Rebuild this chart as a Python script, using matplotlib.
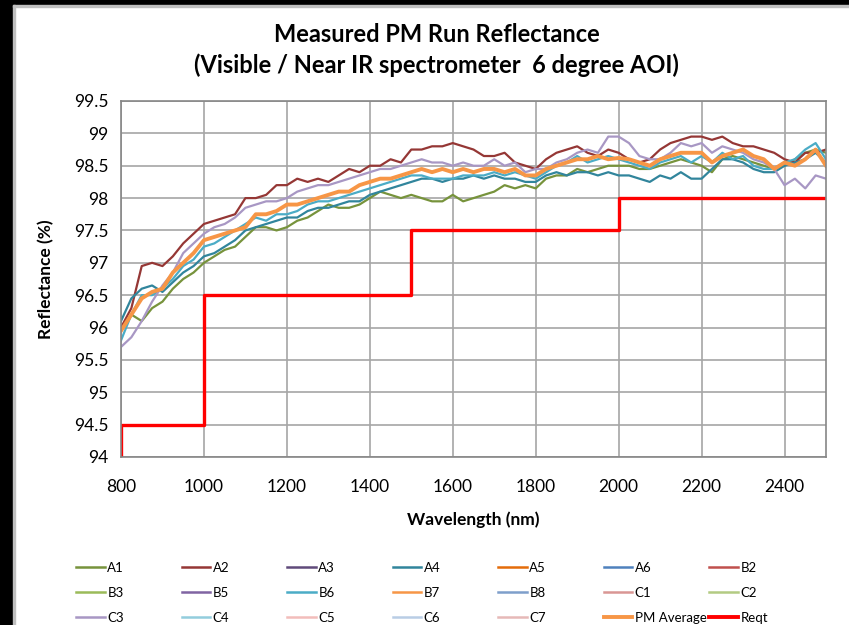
import matplotlib
matplotlib.use('Agg')
import matplotlib.pyplot as plt
from matplotlib.patches import Rectangle
from matplotlib.lines import Line2D

plt.rcParams['font.family'] = ['Lato', 'DejaVu Sans']

# wavelength grid (nm), 25 nm steps
wl = [800, 825, 850, 875, 900, 925, 950, 975, 1000, 1025, 1050, 1075, 1100, 1125, 1150, 1175,
      1200, 1225, 1250, 1275, 1300, 1325, 1350, 1375, 1400, 1425, 1450, 1475, 1500, 1525, 1550,
      1575, 1600, 1625, 1650, 1675, 1700, 1725, 1750, 1775, 1800, 1825, 1850, 1875, 1900, 1925,
      1950, 1975, 2000, 2025, 2050, 2075, 2100, 2125, 2150, 2175, 2200, 2225, 2250, 2275, 2300,
      2325, 2350, 2375, 2400, 2425, 2450, 2475, 2500]

a1 = [96.0, 96.2, 96.1, 96.3, 96.4, 96.6, 96.75, 96.85, 97.0, 97.1, 97.2, 97.25, 97.4, 97.55, 97.55, 97.5,
      97.55, 97.65, 97.7, 97.8, 97.9, 97.85, 97.85, 97.9, 98.0, 98.1, 98.05, 98.0, 98.05, 98.0, 97.95,
      97.95, 98.05, 97.95, 98.0, 98.05, 98.1, 98.2, 98.15, 98.2, 98.15, 98.3, 98.35, 98.35, 98.45, 98.4,
      98.45, 98.5, 98.5, 98.5, 98.45, 98.45, 98.5, 98.55, 98.6, 98.55, 98.5, 98.4, 98.6, 98.65, 98.6,
      98.55, 98.5, 98.45, 98.5, 98.6, 98.7, 98.75, 98.7]
a2 = [96.0, 96.3, 96.95, 97.0, 96.95, 97.1, 97.3, 97.45, 97.6, 97.65, 97.7, 97.75, 98.0, 98.0, 98.05, 98.2,
      98.2, 98.3, 98.25, 98.3, 98.25, 98.35, 98.45, 98.4, 98.5, 98.5, 98.6, 98.55, 98.75, 98.75, 98.8,
      98.8, 98.85, 98.8, 98.75, 98.65, 98.65, 98.7, 98.55, 98.5, 98.45, 98.6, 98.7, 98.75, 98.8, 98.7,
      98.65, 98.75, 98.7, 98.6, 98.55, 98.6, 98.75, 98.85, 98.9, 98.95, 98.95, 98.9, 98.95, 98.85, 98.8,
      98.8, 98.75, 98.7, 98.6, 98.55, 98.7, 98.7, 98.75]
a4 = [96.1, 96.45, 96.6, 96.65, 96.55, 96.7, 96.85, 96.95, 97.1, 97.15, 97.25, 97.35, 97.5, 97.55, 97.6, 97.65,
      97.7, 97.7, 97.8, 97.85, 97.85, 97.9, 97.95, 97.95, 98.05, 98.1, 98.15, 98.2, 98.25, 98.3, 98.3,
      98.25, 98.3, 98.3, 98.35, 98.3, 98.35, 98.3, 98.3, 98.25, 98.25, 98.35, 98.4, 98.35, 98.4, 98.4,
      98.35, 98.4, 98.35, 98.35, 98.3, 98.25, 98.35, 98.3, 98.4, 98.3, 98.3, 98.45, 98.6, 98.6, 98.55,
      98.45, 98.4, 98.4, 98.5, 98.55, 98.6, 98.7, 98.55]
b6 = [95.8, 96.2, 96.5, 96.5, 96.6, 96.75, 96.95, 97.05, 97.25, 97.3, 97.4, 97.5, 97.6, 97.7, 97.65, 97.75,
      97.75, 97.8, 97.9, 97.95, 97.95, 98.0, 98.05, 98.1, 98.15, 98.2, 98.25, 98.3, 98.35, 98.35, 98.3,
      98.3, 98.3, 98.35, 98.35, 98.35, 98.4, 98.35, 98.4, 98.35, 98.3, 98.4, 98.5, 98.55, 98.65, 98.55,
      98.6, 98.65, 98.6, 98.55, 98.5, 98.45, 98.55, 98.6, 98.65, 98.55, 98.65, 98.55, 98.7, 98.6, 98.65,
      98.5, 98.45, 98.45, 98.55, 98.6, 98.75, 98.85, 98.6]
c3 = [95.7, 95.85, 96.1, 96.4, 96.65, 96.85, 97.15, 97.3, 97.45, 97.55, 97.6, 97.7, 97.85, 97.9, 97.95, 97.95,
      98.0, 98.1, 98.15, 98.2, 98.2, 98.25, 98.3, 98.35, 98.4, 98.45, 98.45, 98.5, 98.55, 98.6, 98.55,
      98.55, 98.5, 98.55, 98.5, 98.5, 98.6, 98.5, 98.55, 98.4, 98.45, 98.45, 98.55, 98.6, 98.7, 98.75,
      98.7, 98.95, 98.95, 98.85, 98.65, 98.6, 98.6, 98.7, 98.85, 98.8, 98.85, 98.7, 98.8, 98.75, 98.7,
      98.6, 98.55, 98.45, 98.2, 98.3, 98.15, 98.35, 98.3]
pm_avg = [95.95, 96.2, 96.45, 96.55, 96.6, 96.85, 97.0, 97.15, 97.35, 97.4, 97.45, 97.5, 97.55, 97.75, 97.75, 97.8,
          97.9, 97.9, 97.95, 98.0, 98.05, 98.1, 98.1, 98.2, 98.25, 98.3, 98.3, 98.35, 98.4, 98.45, 98.4,
          98.45, 98.4, 98.45, 98.4, 98.45, 98.45, 98.4, 98.45, 98.35, 98.35, 98.45, 98.5, 98.55, 98.6, 98.6,
          98.65, 98.6, 98.62, 98.6, 98.55, 98.5, 98.6, 98.65, 98.7, 98.7, 98.7, 98.55, 98.65, 98.7, 98.75,
          98.65, 98.6, 98.45, 98.55, 98.5, 98.6, 98.75, 98.5]

# requirement steps
reqt_wl = [800, 800, 1000, 1500, 2000, 2500]
reqt_val = [94.0, 94.5, 96.5, 97.5, 98.0, 98.0]

names = ['A1', 'A2', 'A3', 'A4', 'A5', 'A6', 'B2',
         'B3', 'B5', 'B6', 'B7', 'B8', 'C1', 'C2',
         'C3', 'C4', 'C5', 'C6', 'C7']
colors = ['#77933C', '#953735', '#604A7B', '#31859C', '#E46C0A', '#4F81BD', '#C0504D',
          '#9BBB59', '#8064A2', '#4BACC6', '#F79646', '#7E9FCB', '#D99694', '#B3CB82',
          '#A897C4', '#93CDDD', '#F2BDBB', '#B9CDE5', '#E6B9B8']
data = {'A1': a1, 'A2': a2, 'A4': a4, 'B6': b6, 'C3': c3}

fig = plt.figure(figsize=(8.49, 6.25), dpi=100)
ax = fig.add_axes([121 / 849, 1 - 457 / 625, 705 / 849, 356 / 625])

handles = []
for name, col in zip(names, colors):
    y = data.get(name)
    if y is not None:
        ax.plot(wl, y, color=col, lw=1.6)
    handles.append(Line2D([], [], color=col, lw=1.8, label=name))

ax.plot(wl, pm_avg, color='#F79646', lw=2.8)
ax.plot(reqt_wl, reqt_val, color='#FF0000', lw=2.4, drawstyle='steps-post')
handles.append(Line2D([], [], color='#F79646', lw=2.8, label='PM Average'))
handles.append(Line2D([], [], color='#FF0000', lw=2.8, label='Reqt'))

ax.set_xlim(800, 2500)
ax.set_ylim(94, 99.5)
ax.set_xticks(range(800, 2500, 200))
ax.set_yticks([94 + 0.5 * i for i in range(12)])
ax.set_yticklabels(['94', '94.5', '95', '95.5', '96', '96.5', '97', '97.5', '98', '98.5', '99', '99.5'])
ax.grid(True, color='#A6A6A6', lw=1.2)
ax.set_axisbelow(True)
ax.tick_params(length=0, labelsize=12.5, pad=9)
ax.tick_params(axis='x', pad=16)
for s in ax.spines.values():
    s.set_color('#868686')
    s.set_linewidth(1.2)

ax.set_xlabel('Wavelength (nm)', fontsize=12.5, fontweight='bold', labelpad=12)
ax.set_ylabel('Reflectance (%)', fontsize=12.5, fontweight='bold', labelpad=14)
ax.set_title('Measured PM Run Reflectance\n(Visible / Near IR spectrometer  6 degree AOI)',
             fontsize=17, fontweight='bold', pad=20, linespacing=1.4, x=0.448)

# legend: 7 columns x 3 rows, filled row by row
for c in range(7):
    col_handles = [handles[r * 7 + c] for r in range(3)]
    fig.legend(handles=col_handles, loc='upper left',
               bbox_to_anchor=((76 + c * 105.5) / 849 - 0.012, 1 - 551 / 625),
               frameon=False, fontsize=9.5, handlelength=2.15, handletextpad=0.2,
               labelspacing=1.0, borderpad=0.3)

# black frame around the top and left edges
fig.add_artist(Rectangle((0, 1 - 5 / 625), 1, 5 / 625, transform=fig.transFigure,
                         color='black', zorder=10))
fig.add_artist(Rectangle((0, 0), 13 / 849, 1, transform=fig.transFigure,
                         color='black', zorder=10))
fig.add_artist(Rectangle((13 / 849, 0), 2 / 849, 1 - 5 / 625, transform=fig.transFigure,
                         color='#BFBFBF', zorder=10))
fig.add_artist(Rectangle((13 / 849, 1 - 7 / 625), 1, 2 / 625, transform=fig.transFigure,
                         color='#BFBFBF', zorder=10))

fig.savefig('out.png', dpi=100)
